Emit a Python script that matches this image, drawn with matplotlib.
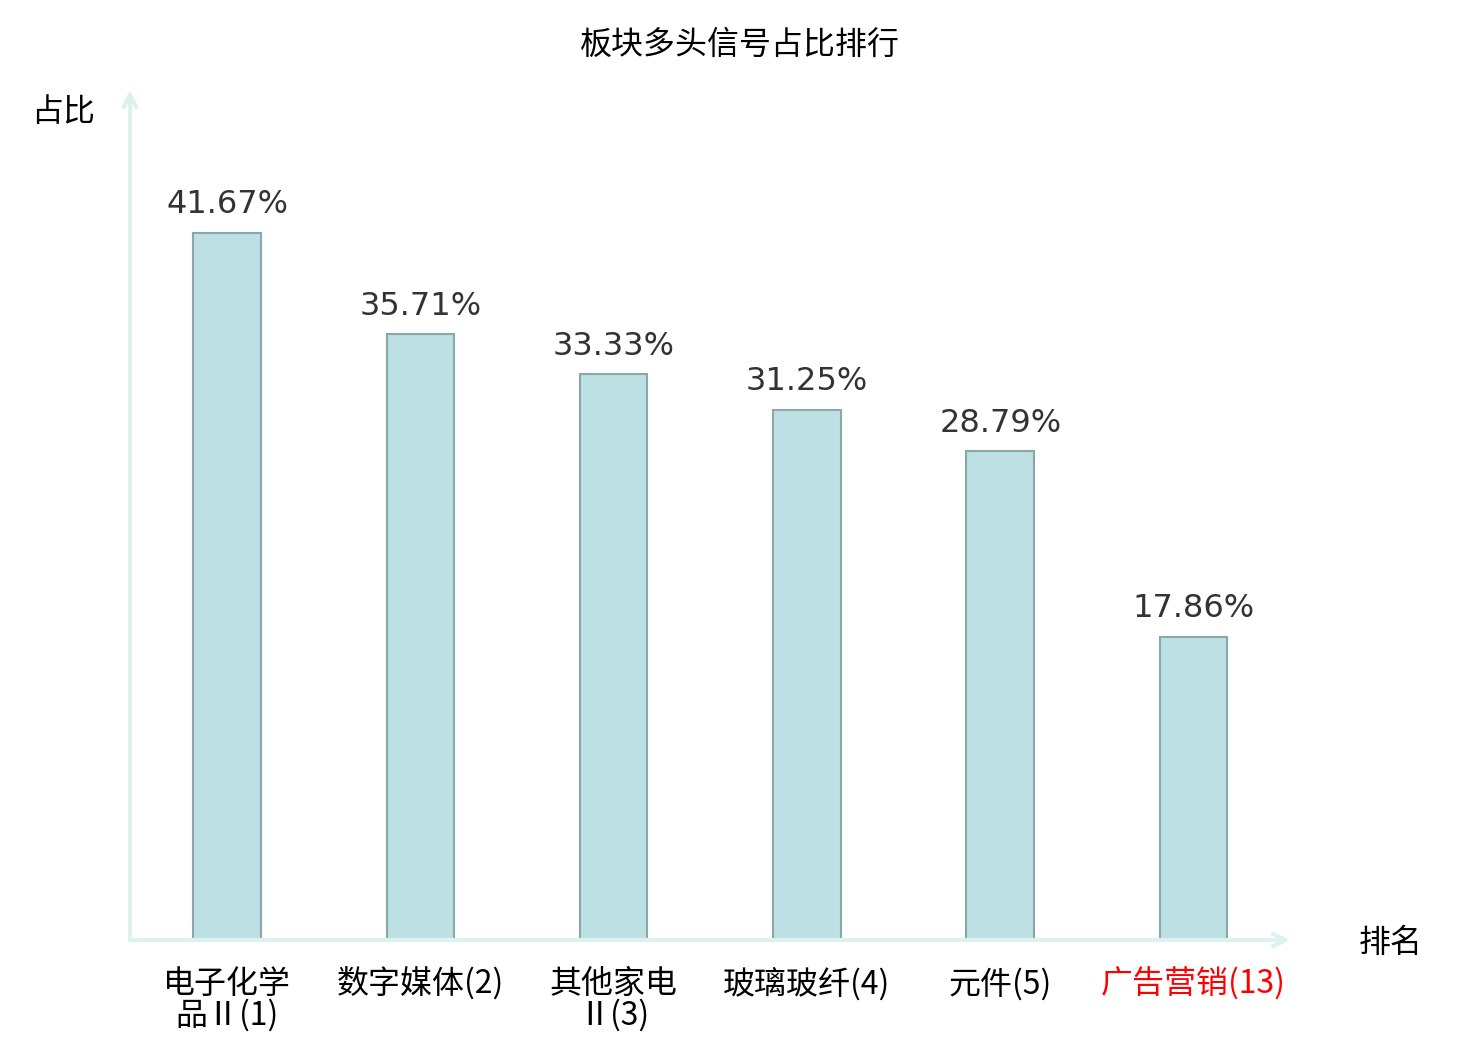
import matplotlib.pyplot as plt

plt.rcParams['font.family'] = ['Noto Sans CJK SC', 'DejaVu Sans']

# data
labels = ['电子化学\n品Ⅱ(1)', '数字媒体(2)', '其他家电\nⅡ(3)', '玻璃玻纤(4)', '元件(5)', '广告营销(13)']
values = [41.67, 35.71, 33.33, 31.25, 28.79, 17.86]
label_colors = ['black', 'black', 'black', 'black', 'black', 'red']

fig = plt.figure(figsize=(14.8, 10.4), dpi=100)
# axes box in pixels: left 130, right 1290, bottom 940, top 90
ax = fig.add_axes([130 / 1480, 100 / 1040, 1160 / 1480, 850 / 1040])

x = list(range(len(values)))
ax.bar(x, values, width=0.35, color='#bce0e3', edgecolor='#8aa8a8', linewidth=1.5, zorder=3)

for xi, v in zip(x, values):
    ax.annotate(f'{v:.2f}%', (xi, v), xytext=(0, 9), textcoords='offset points',
                ha='center', va='bottom', fontsize=23, color='#333333',
                family=['DejaVu Sans'])

ax.set_xlim(-0.502, 5.499)
ax.set_ylim(0, 50.09)

for s in ax.spines.values():
    s.set_visible(False)
ax.set_yticks([])
ax.set_xticks(x)
ax.set_xticklabels(labels, fontsize=23, linespacing=0.95, fontweight='light')
for t, c in zip(ax.get_xticklabels(), label_colors):
    t.set_color(c)
ax.tick_params(axis='x', length=0, pad=20)

# axis arrows
arrow_kw = dict(arrowstyle='->,head_length=0.9,head_width=0.45', color='#ddf1ef', lw=3,
                shrinkA=0, shrinkB=0)
ax.annotate('', xy=(1.0, 0), xytext=(0, 0), xycoords='axes fraction',
            textcoords='axes fraction', arrowprops=arrow_kw, annotation_clip=False)
ax.annotate('', xy=(0, 1.0), xytext=(0, 0), xycoords='axes fraction',
            textcoords='axes fraction', arrowprops=arrow_kw, annotation_clip=False)

fig.text(740 / 1480, 1 - 45 / 1040, '板块多头信号占比排行', ha='center', va='center', fontsize=23)
fig.text(63 / 1480, 1 - 112 / 1040, '占比', ha='center', va='center', fontsize=23)
fig.text(1391 / 1480, 1 - 943 / 1040, '排名', ha='center', va='center', fontsize=23)

fig.savefig('out.png', dpi=100)
